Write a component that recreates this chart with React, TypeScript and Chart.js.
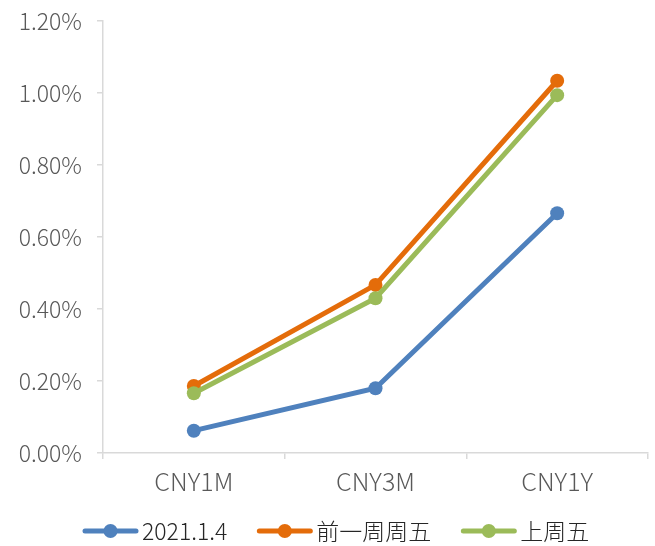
import React, { useEffect, useRef } from "react";
import { Chart, registerables } from "chart.js";

Chart.register(...registerables);

// Tenors on the x axis
const categories = ["CNY1M", "CNY3M", "CNY1Y"];
// Series names
const seriesNames = ["2021.1.4", "前一周周五", "上周五"];
// Yields in percent
const seriesToday = [0.062, 0.18, 0.666];
const seriesPrevWeekFri = [0.186, 0.467, 1.034];
const seriesLastFri = [0.166, 0.43, 0.994];
const seriesColors = ["#4f81bd", "#e46c0a", "#9bbb59"];
// Y axis range / step (percent)
const yMin = 0;
const yMax = 1.2;
const yStep = 0.2;

const FONT = "'Noto Sans CJK SC', 'Noto Sans', sans-serif";
const AXIS_COLOR = "#d9d9d9";

// Legend drawn below the axis: a short line with a dot, followed by the name
const lineLegend = {
  id: "lineLegend",
  afterDraw(chart: Chart) {
    const ctx = chart.ctx;
    const y = 531;
    let x = 83;
    ctx.save();
    ctx.font = `300 23px ${FONT}`;
    ctx.textBaseline = "middle";
    ctx.textAlign = "left";
    chart.data.datasets.forEach((ds: any) => {
      const color = ds.borderColor as string;
      ctx.strokeStyle = color;
      ctx.lineWidth = 5;
      ctx.lineCap = "round";
      ctx.beginPath();
      ctx.moveTo(x + 2, y);
      ctx.lineTo(x + 53, y);
      ctx.stroke();
      ctx.fillStyle = color;
      ctx.beginPath();
      ctx.arc(x + 27.5, y, 7, 0, Math.PI * 2);
      ctx.fill();
      ctx.fillStyle = "#262626";
      const tx = x + 59;
      ctx.fillText(ds.label, tx, y);
      x = tx + ctx.measureText(ds.label).width + 30;
    });
    ctx.restore();
  },
};

export default function App() {
  const canvasRef = useRef<HTMLCanvasElement | null>(null);

  useEffect(() => {
    document.body.style.margin = "0";
    const canvas = canvasRef.current;
    if (!canvas) return;
    const values = [seriesToday, seriesPrevWeekFri, seriesLastFri];
    const orders = [2, 1, 0];
    const chart = new Chart(canvas, {
      type: "line",
      data: {
        labels: categories,
        datasets: values.map((v, i) => ({
          label: seriesNames[i],
          data: v,
          borderColor: seriesColors[i],
          backgroundColor: seriesColors[i],
          pointBackgroundColor: seriesColors[i],
          pointBorderColor: seriesColors[i],
          borderWidth: 5,
          pointRadius: 7,
          pointBorderWidth: 0,
          tension: 0,
          order: orders[i],
        })),
      },
      options: {
        animation: false,
        responsive: false,
        maintainAspectRatio: false,
        layout: { padding: { top: 21, left: 10, right: 5, bottom: 0 } },
        plugins: {
          legend: { display: false },
          tooltip: { enabled: false },
        },
        scales: {
          x: {
            offset: true,
            grid: {
              offset: true,
              drawOnChartArea: false,
              drawTicks: true,
              tickLength: 6,
              color: AXIS_COLOR,
              lineWidth: 1.5,
            },
            border: { display: true, color: AXIS_COLOR, width: 1.5 },
            ticks: {
              padding: 7,
              color: "#595959",
              font: { family: FONT, size: 25, weight: 300 as any },
            },
            afterFit(scale: any) {
              scale.height = 93;
              scale.paddingLeft = 0;
              scale.paddingRight = 0;
            },
          },
          y: {
            min: yMin,
            max: yMax,
            grid: {
              drawOnChartArea: false,
              drawTicks: true,
              tickLength: 6,
              color: AXIS_COLOR,
              lineWidth: 1.5,
            },
            border: { display: true, color: AXIS_COLOR, width: 1.5 },
            ticks: {
              stepSize: yStep,
              padding: 15,
              color: "#595959",
              font: { family: FONT, size: 23, weight: 300 as any },
              callback: (v: any) => Number(v).toFixed(2) + "%",
            },
            afterFit(scale: any) {
              scale.width = 93;
              scale.paddingTop = 0;
              scale.paddingBottom = 0;
            },
          },
        },
      },
      plugins: [lineLegend],
    });
    return () => chart.destroy();
  }, []);

  return (
    <div style={{ width: 655, height: 546 }}>
      <canvas ref={canvasRef} width={655} height={546} style={{ display: "block" }} />
    </div>
  );
}
